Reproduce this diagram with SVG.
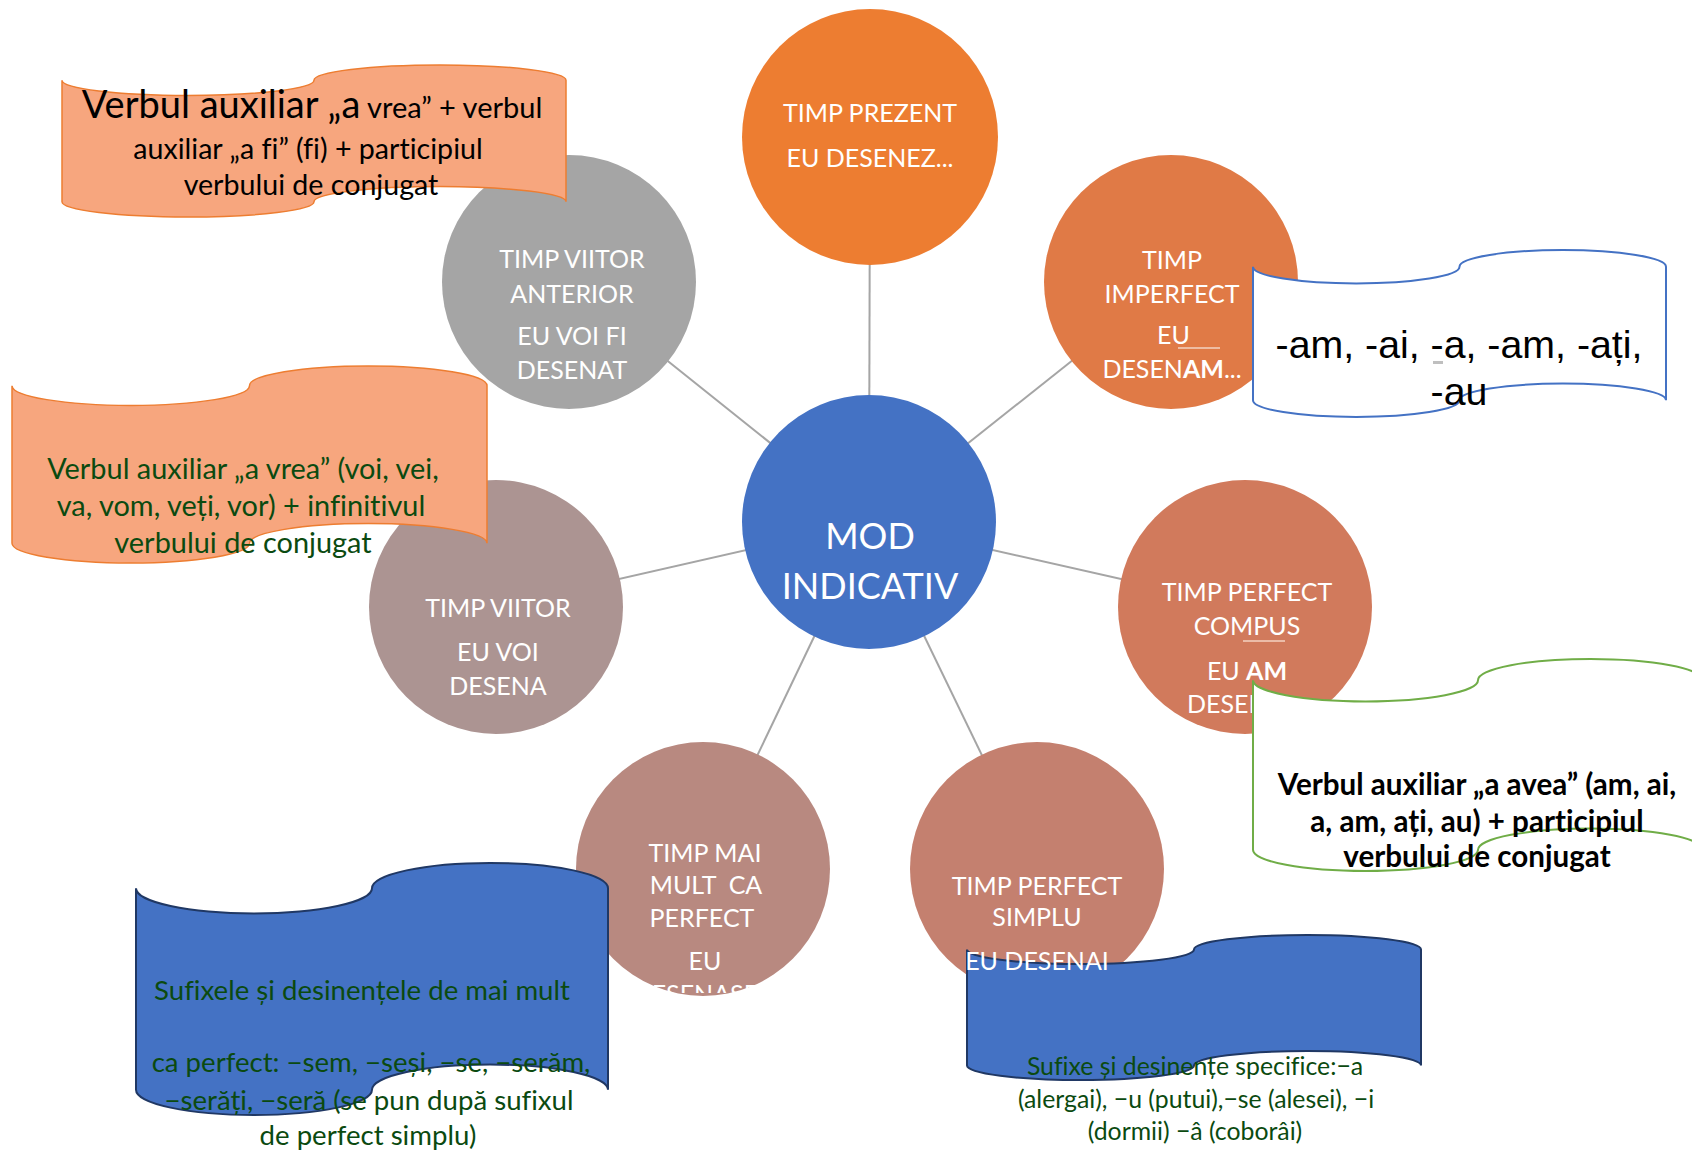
<svg xmlns="http://www.w3.org/2000/svg" width="1692" height="1153" viewBox="0 0 1692 1153">
<style>
text{font-variant-ligatures:none}
.conn{stroke:#A5A5A5;stroke-width:2;fill:none}
.ct{font-family:Lato,"Noto Sans",sans-serif;font-size:25px;fill:#FFFFFF;text-anchor:middle}
.center{font-size:36px}
.tx{font-family:Lato,"Noto Sans",sans-serif;text-anchor:middle}
.peach{fill:#F7A67E;stroke:#ED7D31;stroke-width:1.5}
.blue{fill:#4472C4;stroke:#203864;stroke-width:2}
.wblue{fill:#FFFFFF;stroke:#4472C4;stroke-width:2}
.wgreen{fill:#FFFFFF;stroke:#70AD47;stroke-width:2}
.dg{fill:#0B4A10}
.ul{stroke:#F3D3C2;stroke-width:1.5}
</style>
<defs>
<clipPath id="clipMM"><rect x="645" y="940" width="125" height="53"/></clipPath>
</defs>
<rect width="1692" height="1153" fill="#FFFFFF"/>

<g id="connectors">
<line class="conn" x1="869" y1="522" x2="870" y2="137"/>
<line class="conn" x1="869" y1="522" x2="1171" y2="282"/>
<line class="conn" x1="869" y1="522" x2="1245" y2="607"/>
<line class="conn" x1="869" y1="522" x2="1037" y2="869"/>
<line class="conn" x1="869" y1="522" x2="703" y2="869"/>
<line class="conn" x1="869" y1="522" x2="496" y2="607"/>
<line class="conn" x1="869" y1="522" x2="569" y2="282"/>
</g>

<g id="node-center">
<circle cx="869" cy="522" r="127" fill="#4472C4"/>
<text class="ct center" x="870" y="549">MOD</text>
<text class="ct center" x="870" y="599">INDICATIV</text>
</g>

<g id="node-prezent">
<circle cx="870" cy="137" r="128" fill="#ED7D31"/>
<text class="ct" x="870" y="122">TIMP PREZENT</text>
<text class="ct" x="870" y="167">EU DESENEZ...</text>
</g>

<g id="node-imperfect">
<circle cx="1171" cy="282" r="127" fill="#E07A46"/>
<text class="ct" x="1172" y="269">TIMP</text>
<text class="ct" x="1172" y="303">IMPERFECT</text>
<text class="ct" x="1157" y="344" style="text-anchor:start">EU</text>
<line class="ul" x1="1178" y1="348" x2="1220" y2="348"/>
<text class="ct" x="1172" y="378">DESEN<tspan font-weight="bold">AM</tspan>...</text>
</g>

<g id="node-compus">
<circle cx="1245" cy="607" r="127" fill="#D17A5C"/>
<text class="ct" x="1247" y="601">TIMP PERFECT</text>
<text class="ct" x="1247" y="635">COMPUS</text>
<line class="ul" x1="1243" y1="641" x2="1285" y2="641"/>
<text class="ct" x="1247" y="680">EU <tspan font-weight="bold">AM</tspan></text>
<text class="ct" x="1187" y="713" style="text-anchor:start">DESEN</text>
</g>

<g id="node-simplu">
<circle cx="1037" cy="869" r="127" fill="#C4806F"/>
<text class="ct" x="1037" y="895">TIMP PERFECT</text>
<text class="ct" x="1037" y="926">SIMPLU</text>
</g>

<g id="node-maimult">
<circle cx="703" cy="869" r="127" fill="#B88980"/>
<text class="ct" x="705" y="862">TIMP MAI</text>
<text class="ct" x="706" y="894" xml:space="preserve">MULT  CA</text>
<text class="ct" x="702" y="927">PERFECT</text>
<text class="ct" x="705" y="970">EU</text>
<text class="ct" x="707" y="1003" clip-path="url(#clipMM)">DESENASEM</text>
</g>

<g id="node-viitor">
<circle cx="496" cy="607" r="127" fill="#AC9492"/>
<text class="ct" x="498" y="617">TIMP VIITOR</text>
<text class="ct" x="498" y="661">EU VOI</text>
<text class="ct" x="498" y="695">DESENA</text>
</g>

<g id="node-viitor-anterior">
<circle cx="569" cy="282" r="127" fill="#A5A5A5"/>
<text class="ct" x="572" y="268">TIMP VIITOR</text>
<text class="ct" x="572" y="303">ANTERIOR</text>
<text class="ct" x="572" y="345">EU VOI FI</text>
<text class="ct" x="572" y="379">DESENAT</text>
</g>

<g id="callout-viitor-anterior">
<path class="peach" d="M62,80.2 A126,15.2 0 0 0 314,80.2 A126,15.2 0 0 1 566,80.2 L566,201.8 A126,15.2 0 0 0 314,201.8 A126,15.2 0 0 1 62,201.8 Z"/>
<text class="tx" x="312" y="118" fill="#000000" font-size="29"><tspan font-size="38">Verbul auxiliar „a</tspan> vrea” + verbul</text>
<text class="tx" x="308" y="159" fill="#000000" font-size="28.6">auxiliar „a fi” (fi) + participiul</text>
<text class="tx" x="311" y="195" fill="#000000" font-size="28.6">verbului de conjugat</text>
</g>

<g id="callout-viitor">
<path class="peach" d="M12,385.7 A118.75,19.7 0 0 0 249.5,385.7 A118.75,19.7 0 0 1 487,385.7 L487,543.3 A118.75,19.7 0 0 0 249.5,543.3 A118.75,19.7 0 0 1 12,543.3 Z"/>
<text class="tx dg" x="243" y="479" font-size="28.9">Verbul auxiliar „a vrea” (voi, vei,</text>
<text class="tx dg" x="241" y="516" font-size="28.9">va, vom, veți, vor) + infinitivul</text>
<text class="tx dg" x="243" y="553" font-size="28.9">verbului de conjugat</text>
</g>

<g id="callout-imperfect">
<path class="wblue" d="M1253,266.7 A103.25,16.7 0 0 0 1459.5,266.7 A103.25,16.7 0 0 1 1666,266.7 L1666,400.3 A103.25,16.7 0 0 0 1459.5,400.3 A103.25,16.7 0 0 1 1253,400.3 Z"/>
<rect x="1433" y="361" width="10" height="3" fill="#BFBFBF"/>
<text x="1459" y="358" font-family="'Liberation Sans',Arial,sans-serif" font-size="39.3" text-anchor="middle" fill="#000000">-am, -ai, -a, -am, -ați,</text>
<text x="1459" y="405" font-family="'Liberation Sans',Arial,sans-serif" font-size="39.3" text-anchor="middle" fill="#000000">-au</text>
</g>

<g id="callout-compus">
<path class="wgreen" d="M1253,680.2 A112.5,21.2 0 0 0 1478,680.2 A112.5,21.2 0 0 1 1703,680.2 L1703,849.8 A112.5,21.2 0 0 0 1478,849.8 A112.5,21.2 0 0 1 1253,849.8 Z"/>
<text class="tx" x="1477" y="795" font-size="29.6" font-weight="bold" fill="#000000">Verbul auxiliar „a avea” (am, ai,</text>
<text class="tx" x="1477" y="832" font-size="29.6" font-weight="bold" fill="#000000">a, am, ați, au) + participiul</text>
<text class="tx" x="1477" y="867" font-size="29.6" font-weight="bold" fill="#000000">verbului de conjugat</text>
</g>

<g id="callout-maimult">
<path class="blue" d="M136,888.2 A118,25.2 0 0 0 372,888.2 A118,25.2 0 0 1 608,888.2 L608,1089.8 A118,25.2 0 0 0 372,1089.8 A118,25.2 0 0 1 136,1089.8 Z"/>
<text class="tx dg" x="362" y="1000" font-size="27.6">Sufixele și desinențele de mai mult</text>
<text class="tx dg" x="371" y="1072" font-size="27.6">ca perfect: −sem, −seși, −se, −serăm,</text>
<text class="tx dg" x="369" y="1110" font-size="27.6">−serăți, −seră (se pun după sufixul</text>
<text class="tx dg" x="368" y="1145" font-size="27.6">de perfect simplu)</text>
</g>

<g id="callout-simplu">
<path class="blue" d="M967,949.5 A113.5,14.5 0 0 0 1194,949.5 A113.5,14.5 0 0 1 1421,949.5 L1421,1065.5 A113.5,14.5 0 0 0 1194,1065.5 A113.5,14.5 0 0 1 967,1065.5 Z"/>
<text class="tx dg" x="1195" y="1075" font-size="24.8">Sufixe și desinențe specifice:−a</text>
<text class="tx dg" x="1196" y="1108" font-size="24.8">(alergai), −u (putui),−se (alesei), −i</text>
<text class="tx dg" x="1195" y="1140" font-size="24.8">(dormii) −â (coborâi)</text>
</g>

<g id="node-simplu-label">
<text class="ct" x="1037" y="970">EU DESENAI</text>
</g>
</svg>
